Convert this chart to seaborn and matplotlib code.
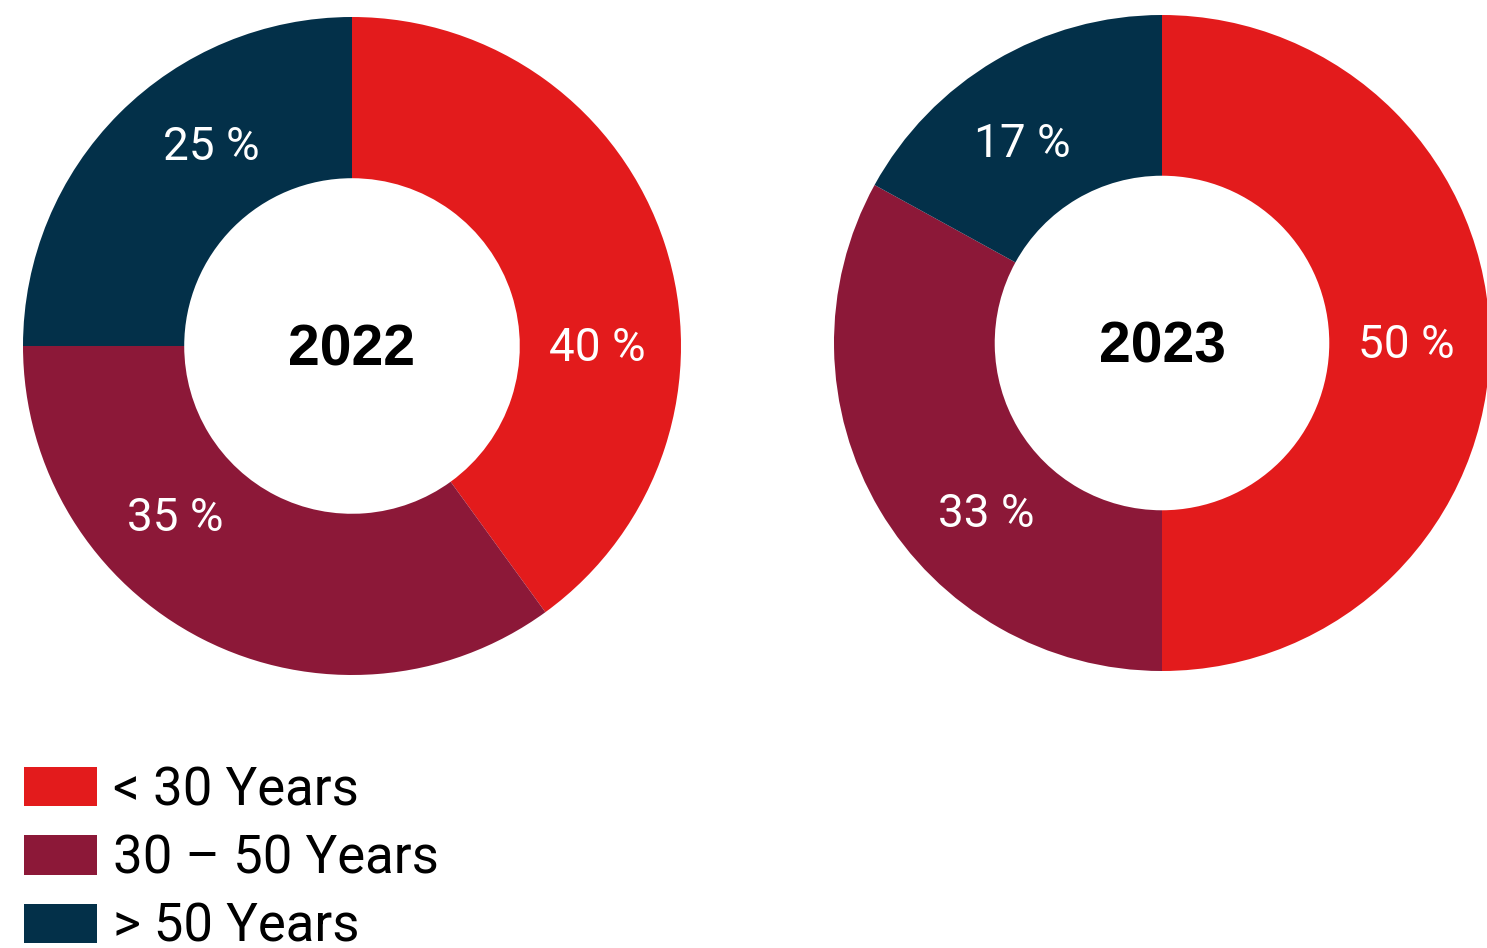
import matplotlib
matplotlib.use("Agg")
import matplotlib.pyplot as plt
import seaborn as sns
import numpy as np
from matplotlib.patches import Patch

sns.set_theme(style="white")
plt.rcParams['font.family'] = ['Roboto', 'DejaVu Sans']

categories = ["< 30 Years", "30 \u2013 50 Years", "> 50 Years"]
years = ["2022", "2023"]
values_2022 = [40, 35, 25]
values_2023 = [50, 33, 17]
colors = ["#E31B1C", "#8C1838", "#033049"]
label_angles = [0, 224, 125]

W, H = 1487, 948
fig = plt.figure(figsize=(W / 100, H / 100), dpi=100)

def add_donut(cx, cy, r, vals, year):
    ax = fig.add_axes([(cx - r) / W, (H - cy - r) / H, 2 * r / W, 2 * r / H])
    ax.pie(vals, colors=colors, startangle=90, counterclock=False, radius=1,
           wedgeprops=dict(width=0.49, linewidth=0))
    for v, a in zip(vals, label_angles):
        t = np.deg2rad(a)
        ax.text(0.745 * np.cos(t), 0.745 * np.sin(t) - 0.005, f"{v} %", color="white",
                ha="center", va="center", fontsize=33, fontweight="normal",
                family=["Roboto", "DejaVu Sans"])
    ax.text(0, -0.015, year, ha="center", va="center", fontsize=41, fontweight="bold",
            color="black", family=["Liberation Sans", "DejaVu Sans"])
    ax.set_xlim(-1, 1)
    ax.set_ylim(-1, 1)
    ax.set_aspect("equal")
    ax.axis("off")

add_donut(352, 346, 329, values_2022, years[0])
add_donut(1162, 343, 328, values_2023, years[1])

handles = [Patch(facecolor=c, edgecolor="none") for c in colors]
fig.legend(handles, categories, loc="upper left", bbox_to_anchor=(24 / W, 1 - 765 / H),
           frameon=False, handlelength=1.38, handleheight=0.78,
           handletextpad=0.3, labelspacing=0.33, borderaxespad=0, borderpad=0,
           labelcolor="black",
           prop=dict(family=["Roboto", "DejaVu Sans"], weight="normal", size=38))

fig.savefig("out.png", dpi=100)
